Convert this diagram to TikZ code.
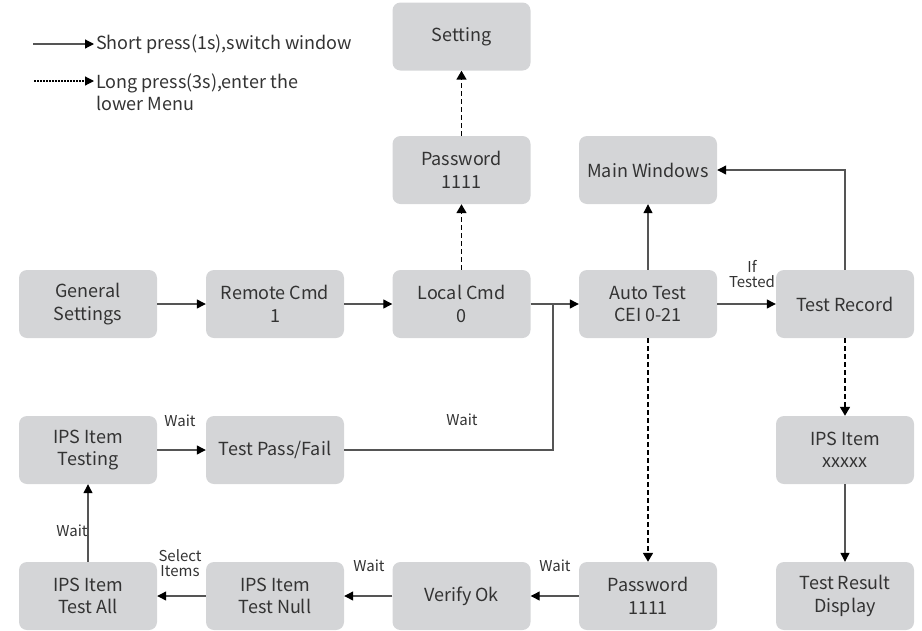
\documentclass[tikz,border=0pt]{standalone}
\usepackage{fontspec}
\setmainfont{Noto Sans CJK SC}
\usetikzlibrary{arrows.meta}
\definecolor{boxgray}{HTML}{D4D5D7}
\definecolor{txt}{HTML}{333333}
\definecolor{linegray}{HTML}{555555}
\tikzset{
  box/.style={draw=none, fill=boxgray, rounded corners=8pt, minimum width=138pt, minimum height=68pt,
    inner sep=0pt, align=center, text=txt, font=\fontsize{18}{22.5}\selectfont},
  arr/.style={draw=linegray, line width=1.2pt, -{Triangle[length=9pt,width=9pt,color=black]}},
  dasharr/.style={draw=black, line width=1.7pt, dash pattern=on 5pt off 3pt, -{Triangle[length=9pt,width=10pt]}},
  dotarr/.style={draw=black, line width=1.2pt, dash pattern=on 1.5pt off 1.5pt, -{Triangle[length=9pt,width=9pt]}},
  lbl/.style={text=txt, font=\fontsize{15}{16}\selectfont, inner sep=0pt, align=center},
  leg/.style={text=txt, font=\fontsize{18}{22}\selectfont, inner sep=0pt, align=left, anchor=west},
}
\begin{document}
\begin{tikzpicture}[x=1pt, y=-1pt]
\useasboundingbox (0,0) rectangle (922,630);
% legend
\coordinate (l1) at (33,44);
\node[leg] (t1) at (96,44) {Short press(1s),switch window};
\draw[arr, shorten >=2pt] (l1) -- (t1.west);
\coordinate (l2) at (34,81);
\node[leg] (t2) at (96,92) {Long press(3s),enter the\\lower Menu};
\draw[dotarr, shorten >=2pt] (l2) -- (t2.west |- l2);
% boxes
\node[box] (set) at (461.5,36.5) {Setting};
\node[box] (pw1) at (461.5,170) {Password\\1111};
\node[box] (mw) at (648,170) {Main Windows};
\node[box] (gs) at (88,304) {General\\Settings};
\node[box] (rc) at (275,304) {Remote Cmd\\1};
\node[box] (lc) at (461.5,304) {Local Cmd\\0};
\node[box] (at) at (648,304) {Auto Test\\CEI 0-21};
\node[box] (tr) at (845,304) {Test Record};
\node[box] (ipt) at (88,450) {IPS Item\\Testing};
\node[box] (tpf) at (275,450) {Test Pass/Fail};
\node[box] (ipx) at (845,450) {IPS Item\\xxxxx};
\node[box] (ita) at (88,596) {IPS Item\\Test All};
\node[box] (itn) at (275,596) {IPS Item\\Test Null};
\node[box] (vo) at (461.5,596) {Verify Ok};
\node[box] (pw2) at (648,596) {Password\\1111};
\node[box] (trd) at (845,596) {Test Result\\Display};
% connectors
\draw[arr] (gs) -- (rc);
\draw[arr] (rc) -- (lc);
\draw[arr] (lc) -- (at);
\coordinate (j) at (553,304);
\draw[draw=linegray, line width=1.2pt] (tpf.east) -| (j);
\draw[arr] (at) -- (mw);
\draw[arr] (at) -- (tr);
\draw[arr] (tr.north) |- (mw.east);
\draw[dasharr] (lc) -- (pw1);
\draw[dasharr] (pw1) -- (set);
\draw[dasharr] (at) -- (pw2);
\draw[dasharr] (tr) -- (ipx);
\draw[arr] (ipx) -- (trd);
\draw[arr] (pw2) -- (vo);
\draw[arr] (vo) -- (itn);
\draw[arr] (itn) -- (ita);
\draw[arr] (ita) -- (ipt);
\draw[arr] (ipt) -- (tpf);
% labels
\node[lbl] (w1) at (462,420) {Wait};
\node[lbl] (w2) at (180,421) {Wait};
\node[lbl] (w3) at (72,531) {Wait};
\node[lbl] (w4) at (369,566) {Wait};
\node[lbl] (w5) at (555,566) {Wait};
\node[lbl, font=\fontsize{15}{15}\selectfont] (si) at (180,563) {Select\\Items};
\node[lbl, font=\fontsize{15}{15}\selectfont] (it) at (752,274) {If\\Tested};
\end{tikzpicture}
\end{document}
